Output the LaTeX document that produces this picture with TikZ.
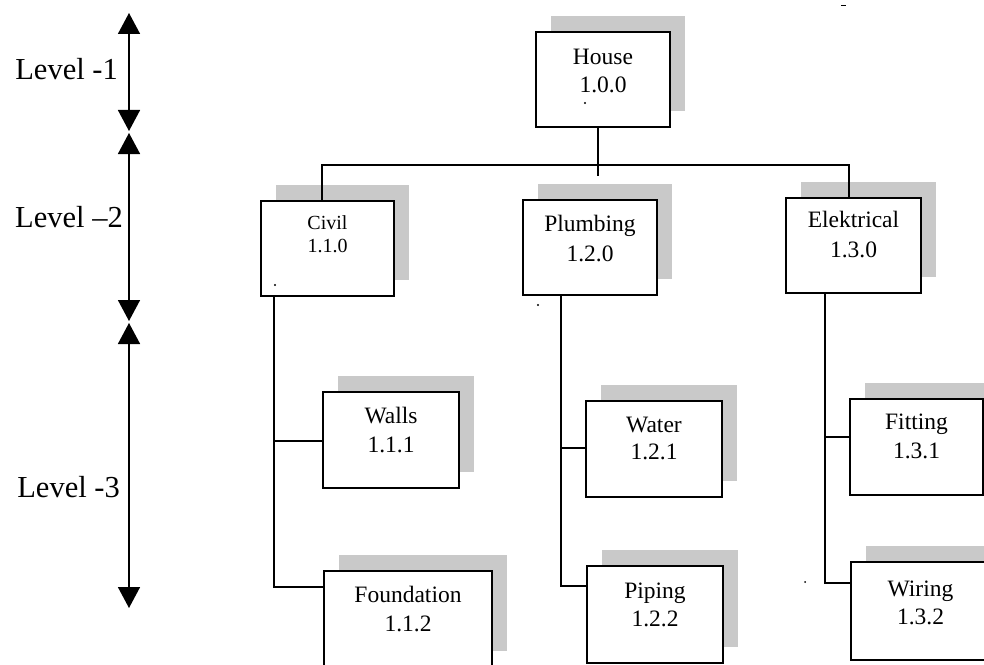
\documentclass[tikz,border=0pt]{standalone}
\usepackage{fontspec}
\setmainfont{Liberation Serif}
\usetikzlibrary{arrows.meta,shadows,calc}
\begin{document}
\begin{tikzpicture}[x=1bp,y=-1bp,
  box/.style={draw, line width=1.8bp, fill=white, inner sep=0pt,
    minimum width=134bp, minimum height=96bp,
    drop shadow={shadow xshift=15bp, shadow yshift=16bp, fill=black!21, opacity=1}},
  txt/.style={inner sep=0pt, anchor=base, font=\fontsize{23.5bp}{28bp}\selectfont},
  smalltxt/.style={inner sep=0pt, anchor=base, font=\fontsize{20bp}{24bp}\selectfont},
  lvltxt/.style={inner sep=0pt, anchor=base east, font=\fontsize{30.5bp}{36bp}\selectfont},
  conn/.style={line width=1.6bp},
  lvlarrow/.style={line width=1.6bp, {Triangle[width=22bp,length=21bp]}-{Triangle[width=22bp,length=21bp]}}]
\useasboundingbox (0,0) rectangle (984,665);

% boxes
\node[box, minimum height=95bp] (house) at (603,79.5) {};
\node[box, minimum width=133bp, minimum height=95bp] (civil) at (327.5,248.5) {};
\node[box, minimum height=95bp] (plumb) at (590,247.5) {};
\node[box, minimum width=135bp, minimum height=95bp] (elec) at (853.5,245.5) {};
\node[box, minimum width=136bp] (walls) at (391,440) {};
\node[box, minimum width=168bp] (found) at (408,619) {};
\node[box, minimum width=136bp] (water) at (654,449) {};
\node[box, minimum width=136bp, minimum height=97bp] (piping) at (655,614.5) {};
\node[box, minimum width=133bp] (fitting) at (916.5,447) {};
\node[box, minimum width=139bp, minimum height=98bp] (wiring) at (920.5,611) {};

% texts
\node[txt] (houseA) at ([yshift=-33bp]house.north) {House};
\node[txt] (houseB) at ([yshift=-61bp]house.north) {1.0.0};
\node[smalltxt] (civilA) at ([yshift=-29bp]civil.north) {Civil};
\node[smalltxt] (civilB) at ([yshift=-52bp]civil.north) {1.1.0};
\node[txt] (plumbA) at ([yshift=-32bp]plumb.north) {Plumbing};
\node[txt] (plumbB) at ([yshift=-62bp]plumb.north) {1.2.0};
\node[txt] (elecA) at ([yshift=-30bp]elec.north) {Elektrical};
\node[txt] (elecB) at ([yshift=-60bp]elec.north) {1.3.0};
\node[txt] (wallsA) at ([yshift=-32bp]walls.north) {Walls};
\node[txt] (wallsB) at ([yshift=-61bp]walls.north) {1.1.1};
\node[txt] (foundA) at ([yshift=-32bp]found.north) {Foundation};
\node[txt] (foundB) at ([yshift=-61bp]found.north) {1.1.2};
\node[txt] (waterA) at ([yshift=-32bp]water.north) {Water};
\node[txt] (waterB) at ([yshift=-59bp]water.north) {1.2.1};
\node[txt] (pipingA) at ([yshift=-33bp]piping.north) {Piping};
\node[txt] (pipingB) at ([yshift=-61bp]piping.north) {1.2.2};
\node[txt] (fittingA) at ([yshift=-31bp]fitting.north) {Fitting};
\node[txt] (fittingB) at ([yshift=-60bp]fitting.north) {1.3.1};
\node[txt] (wiringA) at ([yshift=-35bp]wiring.north) {Wiring};
\node[txt] (wiringB) at ([yshift=-63bp]wiring.north) {1.3.2};

% connectors, top levels
\draw[conn] ([xshift=-5bp]house.south) -- ++(0,48);
\draw[conn] ([xshift=-5.5bp]civil.north) -- ++(0,-35) -| ([xshift=-4.5bp]elec.north);

% stems
\coordinate (cstem) at ([xshift=14bp]civil.south west);
\coordinate (pstem) at ([xshift=39bp]plumb.south west);
\coordinate (estem) at ([xshift=40bp]elec.south west);

\draw[conn] (cstem) |- ([yshift=-17bp]found.north west);
\draw[conn] ([yshift=-1bp]walls.west) -- ([yshift=-1bp]walls.west -| cstem);
\draw[conn] (pstem) |- ([yshift=-21bp]piping.north west);
\draw[conn] ([yshift=1bp]water.west) -- ([yshift=1bp]water.west -| pstem);
\draw[conn] (estem) |- ([yshift=-22bp]wiring.north west);
\draw[conn] ([yshift=-39bp]fitting.north west) -- ([yshift=-39bp]fitting.north west -| estem);

% level arrows
\coordinate (a0) at (129,13);
\coordinate (a1) at (129,131);
\coordinate (a2) at (129,133);
\coordinate (a3) at (129,321);
\coordinate (a4) at (129,323);
\coordinate (a5) at (129,608);
\draw[lvlarrow] (a0) -- (a1);
\draw[lvlarrow] (a2) -- (a3);
\draw[lvlarrow] (a4) -- (a5);
\node[lvltxt] (lv1) at (118,80) {Level -1};
\node[lvltxt] (lv2) at (123,227) {Level –2};
\node[lvltxt] (lv3) at (120,497) {Level -3};

% small specks
\fill (585,103) circle (1.2bp);
\fill (275,285) circle (1.2bp);
\fill (538,305) circle (1.2bp);
\fill (805,582) circle (1bp);
\draw[line width=1bp] (841,6) -- (846,6);
\end{tikzpicture}
\end{document}
